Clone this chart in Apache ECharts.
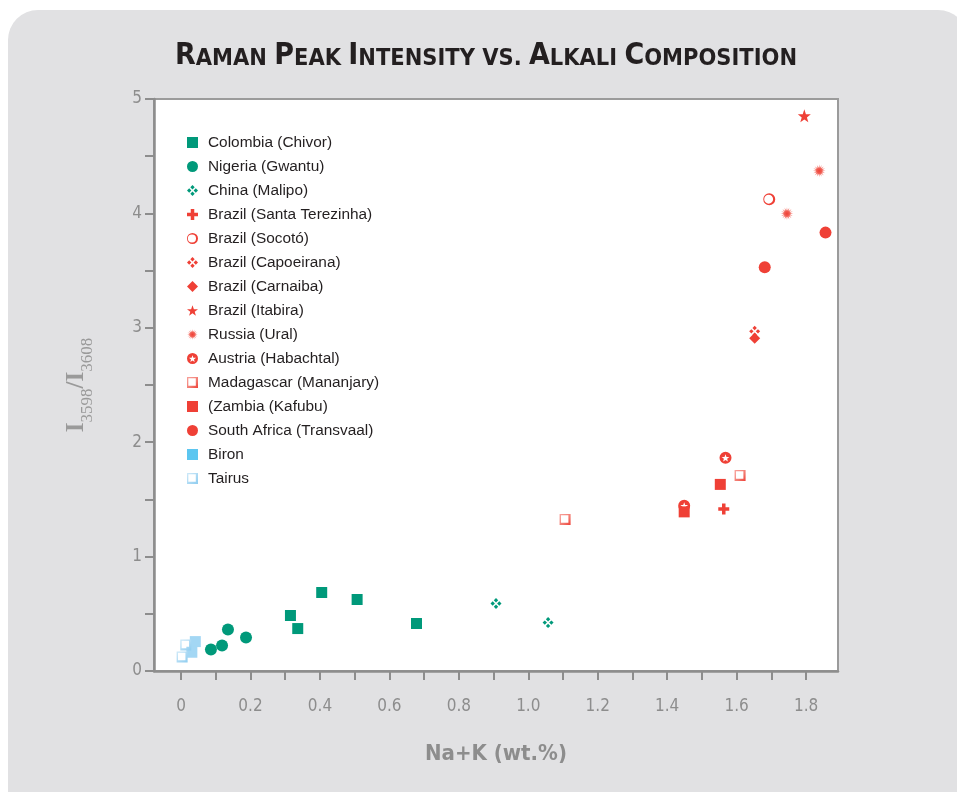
<!DOCTYPE html>
<html>
<head>
<meta charset="utf-8">
<script src="https://cdn.jsdelivr.net/npm/echarts@6/dist/echarts.min.js"></script>
<style>
html,body{margin:0;padding:0;background:#fff;}
#chart{width:957px;height:792px;}
</style>
</head>
<body>
<div id="chart"></div>
<script>
// ---- data (x = Na+K wt.%, y = I3598/I3608) ----
const colombia = [[0.315,0.485],[0.336,0.371],[0.405,0.686],[0.507,0.625],[0.678,0.415]];
const nigeria = [[0.086,0.187],[0.118,0.222],[0.135,0.362],[0.187,0.292]];
const china = [[0.907,0.590],[1.057,0.423]];
const santaTerezinha = [[1.563,1.417]];
const socoto = [[1.694,4.124]];
const capoeirana = [[1.652,2.969]];
const carnaiba = [[1.652,2.908]];
const itabira = [[1.795,4.853]];
const ural = [[1.838,4.372],[1.745,3.998]];
const habachtal = [[1.568,1.864],[1.449,1.444]];
const mananjary = [[1.610,1.709],[1.106,1.325]];
const kafubu = [[1.553,1.631],[1.449,1.391]];
const transvaal = [[1.856,3.832],[1.681,3.529]];
const biron = [[0.041,0.257],[0.031,0.164]];
const tairus = [[0.0135,0.227],[0.003,0.122]];

const seriesNames = ['Colombia (Chivor)','Nigeria (Gwantu)','China (Malipo)','Brazil (Santa Terezinha)',
  'Brazil (Socotó)','Brazil (Capoeirana)','Brazil (Carnaiba)','Brazil (Itabira)','Russia (Ural)',
  'Austria (Habachtal)','Madagascar (Mananjary)','(Zambia (Kafubu)','South Africa (Transvaal)','Biron','Tairus'];
const xTickLabels = [0,0.2,0.4,0.6,0.8,1.0,1.2,1.4,1.6,1.8];
const xMinorTicks = [0,0.1,0.2,0.3,0.4,0.5,0.6,0.7,0.8,0.9,1.0,1.1,1.2,1.3,1.4,1.5,1.6,1.7,1.8];
const yTickLabels = [0,1,2,3,4,5];

// ---- symbol paths ----
function polyStar(cx, cy, R, r, n, reverse) {
  const pts = [];
  for (let i = 0; i < n * 2; i++) {
    const a = Math.PI * i / n;
    const rad = i % 2 === 0 ? R : r;
    pts.push([cx + rad * Math.sin(a), cy - rad * Math.cos(a)]);
  }
  if (reverse) pts.reverse();
  return 'M' + pts.map(p => p[0].toFixed(2) + ',' + p[1].toFixed(2)).join('L') + 'Z';
}
const TEAL = '#00997a', RED = '#ef4036';
const P_PLUS = 'path://M34,0H66V34H100V66H66V100H34V66H0V34H34Z';
const P_CLUSTER = 'path://M50,0L70,20L50,40L30,20ZM100,50L80,70L60,50L80,30ZM50,100L30,80L50,60L70,80ZM0,50L20,30L40,50L20,70Z';
const P_STAR = 'path://' + polyStar(50, 52, 50, 20, 5, false);
const P_BURST = 'path://' + polyStar(50, 50, 50, 24, 16, false);
const P_RING = 'path://M0,50A50,50 0 1,1 100,50A50,50 0 1,1 0,50ZM8,50A37,37 0 1,0 82,50A37,37 0 1,0 8,50Z';
const P_CIRCSTAR = 'path://M0,50A50,50 0 1,1 100,50A50,50 0 1,1 0,50Z' + polyStar(50, 54, 34, 14, 5, true);
const P_OPENSQ = 'path://M0,0H100V100H0ZM12,12V80H80V12Z';

const madGrad = {type:'linear',x:0,y:0,x2:1,y2:1,colorStops:[{offset:0,color:'#f8a29b'},{offset:0.6,color:'#f27a70'},{offset:1,color:RED}]};
const tairusGrad = {type:'linear',x:0,y:0,x2:1,y2:1,colorStops:[{offset:0,color:'#cfe9f8'},{offset:1,color:'#8fcdf0'}]};
const burstGrad = {type:'radial',x:0.5,y:0.5,r:0.5,colorStops:[{offset:0,color:RED},{offset:0.35,color:'#f15a4f'},{offset:1,color:'#f9b8b2'}]};

function sc(name, data, symbol, size, color) {
  return {
    name: name, type: 'scatter', data: data, symbol: symbol, symbolSize: size,
    itemStyle: {color: color, opacity: 1}, emphasis: {disabled: true}
  };
}

const series = [
  sc(seriesNames[0], colombia, 'rect', 11, TEAL),
  sc(seriesNames[1], nigeria, 'circle', 12, TEAL),
  sc(seriesNames[2], china, P_CLUSTER, 11, TEAL),
  sc(seriesNames[3], santaTerezinha, P_PLUS, 11, RED),
  sc(seriesNames[4], socoto, P_RING, 12, RED),
  sc(seriesNames[5], capoeirana, P_CLUSTER, 11, RED),
  sc(seriesNames[6], carnaiba, 'diamond', 11, RED),
  sc(seriesNames[7], itabira, P_STAR, 13, RED),
  sc(seriesNames[8], ural, P_BURST, 13, burstGrad),
  sc(seriesNames[9], habachtal, P_CIRCSTAR, 12, RED),
  sc(seriesNames[10], mananjary, P_OPENSQ, 11, madGrad),
  sc(seriesNames[11], kafubu, 'rect', 11, RED),
  sc(seriesNames[12], transvaal, 'circle', 12, RED),
  sc(seriesNames[13], biron, 'rect', 11, '#a3d7f4'),
  sc(seriesNames[14], tairus, P_OPENSQ, 11, tairusGrad)
];

const legendData = seriesNames.map(n => n === 'Biron' ? {name: n, itemStyle: {color: '#5cc6f0'}} : {name: n});

const axisGray = '#8d8d8d';
const condFont = "'DejaVu Sans Condensed','Liberation Sans',sans-serif";
const serifFont = "'Liberation Serif','DejaVu Serif',serif";

const option = {
  animation: false,
  backgroundColor: 'transparent',
  graphic: {
    elements: [{
      type: 'rect', z: -10, silent: true,
      shape: {x: 8, y: 10, width: 960, height: 800, r: [30, 30, 0, 0]},
      style: {fill: '#e1e1e3'}
    }]
  },
  title: {
    text: '{b|R}{s|AMAN }{b|P}{s|EAK }{b|I}{s|NTENSITY VS. }{b|A}{s|LKALI }{b|C}{s|OMPOSITION}',
    left: 175, top: 41, padding: 0,
    textStyle: {
      rich: {
        b: {fontSize: 30, fontWeight: 'bold', color: '#231f20', fontFamily: condFont, lineHeight: 30, verticalAlign: 'bottom'},
        s: {fontSize: 23.4, fontWeight: 'bold', color: '#231f20', fontFamily: condFont, lineHeight: 23, verticalAlign: 'bottom', padding: [0, 0, 1, 0]}
      }
    }
  },
  legend: {
    orient: 'vertical', left: 187, top: 135, padding: 0,
    itemWidth: 11, itemHeight: 11, itemGap: 9,
    selectedMode: false,
    data: legendData,
    textStyle: {fontFamily: "'Liberation Sans',Arial,sans-serif", fontSize: 15.4, color: '#231f20', lineHeight: 14, padding: [0, 0, 0, 5]}
  },
  grid: {
    left: 154, right: 119, top: 99, bottom: 121,
    show: true, backgroundColor: '#ffffff', borderColor: '#9b9b9b', borderWidth: 2
  },
  xAxis: {
    type: 'value', min: -0.078, max: 1.892,
    name: 'Na+K (wt.%)', nameLocation: 'middle', nameGap: 72,
    nameTextStyle: {fontFamily: condFont, fontWeight: 'bold', fontSize: 22, color: axisGray},
    axisLine: {onZero: false, lineStyle: {color: axisGray, width: 2.5}},
    axisTick: {customValues: xMinorTicks, length: 9, lineStyle: {color: axisGray, width: 2}},
    axisLabel: {customValues: xTickLabels, margin: 27, fontFamily: condFont, fontSize: 17, color: axisGray,
      formatter: v => (v === 0 ? '0' : v.toFixed(1))},
    splitLine: {show: false}
  },
  yAxis: {
    type: 'value', min: 0, max: 5, interval: 0.5,
    name: '{b|I}{s|3598}{b|/I}{s|3608}', nameLocation: 'middle', nameGap: 58,
    nameTextStyle: {
      rich: {
        b: {fontFamily: serifFont, fontWeight: 'bold', fontSize: 25, lineHeight: 23, color: '#9a9a9a', verticalAlign: 'top'},
        s: {fontFamily: serifFont, fontSize: 17, lineHeight: 32, color: '#9a9a9a', verticalAlign: 'bottom'}
      }
    },
    axisLine: {show: true, onZero: false, lineStyle: {color: axisGray, width: 2.5}},
    axisTick: {show: true, length: 9, lineStyle: {color: axisGray, width: 2}},
    axisLabel: {customValues: yTickLabels, margin: 12, fontFamily: condFont, fontSize: 17, color: axisGray},
    splitLine: {show: false}
  },
  series: series
};

const chart = echarts.init(document.getElementById('chart'), null, {renderer: 'canvas'});
chart.setOption(option);
</script>
</body>
</html>
